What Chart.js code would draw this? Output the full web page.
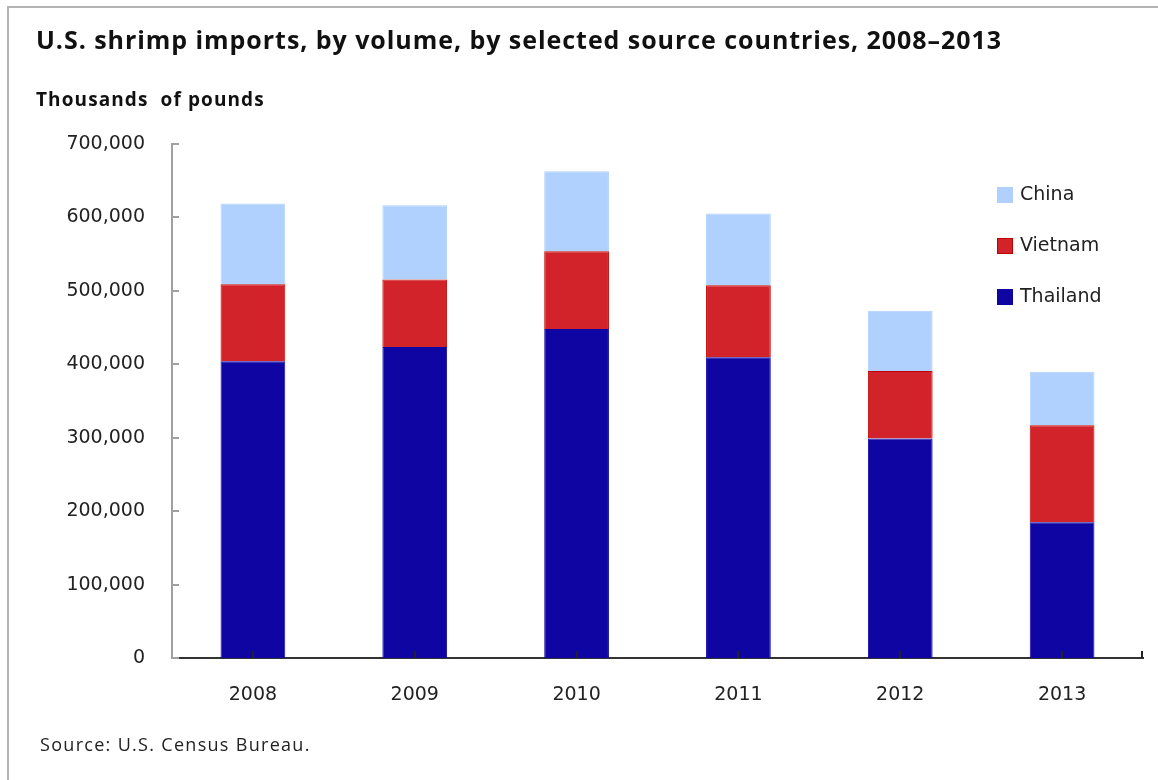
<!DOCTYPE html>
<html>
<head>
<meta charset="utf-8">
<script src="https://cdn.jsdelivr.net/npm/chart.js@4.4.0/dist/chart.umd.min.js"></script>
<style>
  body { margin: 0; background: #fff; width: 1158px; height: 780px; overflow: hidden; position: relative; }
  #frame { position: absolute; left: 7px; top: 6px; width: 1300px; height: 900px;
           border-top: 2px solid #b4b4b4; border-left: 2px solid #b4b4b4; }
  #title { position: absolute; left: 36px; top: 22px; font: bold 25px "Open Sans", sans-serif; letter-spacing: 0.95px; color: #111; white-space: nowrap; }
  #unit { position: absolute; left: 36px; top: 86px; font: bold 19px "Open Sans", sans-serif; letter-spacing: 1.1px; color: #111; white-space: pre; }
  #source { position: absolute; left: 40px; top: 732px; font: 18px "Open Sans", sans-serif; letter-spacing: 1.3px; color: #222; white-space: nowrap; }
  #chart { position: absolute; left: 0; top: 0; }
</style>
</head>
<body>
<div id="frame"></div>
<canvas id="chart" width="1158" height="780"></canvas>
<div id="title">U.S. shrimp imports, by volume, by selected source countries, 2008–2013</div>
<div id="unit">Thousands  of pounds</div>
<div id="source">Source: U.S. Census Bureau.</div>
<script>
const years = ['2008', '2009', '2010', '2011', '2012', '2013'];
const thailand = [404000, 423500, 448000, 409500, 299000, 185000];
const vietnam = [105000, 92000, 106000, 98000, 92000, 132000];
const china = [110000, 101000, 109000, 98000, 82000, 73000];
const yTicks = [0, 100000, 200000, 300000, 400000, 500000, 600000, 700000];

const tickFont = { family: '"DejaVu Sans", sans-serif', size: 19 };

// ticks drawn inward, like the original
const innerTicks = {
    id: 'innerTicks',
    afterDatasetsDraw(chart) {
        const {ctx, chartArea, scales: {x, y}} = chart;
        ctx.save();
        ctx.lineWidth = 2;
        ctx.strokeStyle = '#a0a0a0';
        y.ticks.forEach((t, i) => {
            const py = Math.round(y.getPixelForTick(i));
            ctx.beginPath();
            ctx.moveTo(chartArea.left, py);
            ctx.lineTo(chartArea.left + 7, py);
            ctx.stroke();
        });
        ctx.strokeStyle = '#222';
        const ends = x.ticks.map((t, i) => x.getPixelForTick(i));
        ends.push(chartArea.right - 1);
        ends.forEach(px => {
            px = Math.round(px);
            ctx.beginPath();
            ctx.moveTo(px, chartArea.bottom);
            ctx.lineTo(px, chartArea.bottom - 7);
            ctx.stroke();
        });
        ctx.restore();
    }
};

// vertical legend inside the plot, top right
const sideLegend = {
    id: 'sideLegend',
    afterDraw(chart) {
        const {ctx} = chart;
        const sets = chart.data.datasets.slice().reverse();
        ctx.save();
        ctx.font = '19px "DejaVu Sans", sans-serif';
        ctx.textBaseline = 'middle';
        sets.forEach((ds, i) => {
            const cy = 195 + i * 51;
            ctx.fillStyle = ds.backgroundColor;
            ctx.fillRect(997, cy - 8, 16, 16);
            if (ds.borderColor !== ds.backgroundColor) {
                ctx.strokeStyle = ds.borderColor;
                ctx.lineWidth = 1;
                ctx.strokeRect(997.5, cy - 7.5, 15, 15);
            }
            ctx.fillStyle = '#222';
            ctx.fillText(ds.label, 1020, cy);
        });
        ctx.restore();
    }
};

const data = {
    labels: years,
    datasets: [{
        label: 'Thailand',
        data: thailand,
        backgroundColor: '#0e05a3',
        borderColor: '#0e05a3'
    }, {
        label: 'Vietnam',
        data: vietnam,
        backgroundColor: '#d2232a',
        borderColor: '#c00000'
    }, {
        label: 'China',
        data: china,
        backgroundColor: '#b0d1fd',
        borderColor: '#b0d1fd'
    }]
};

const config = {
    type: 'bar',
    data,
    options: {
        responsive: false,
        animation: false,
        layout: { padding: { top: 144, right: 15, left: 0, bottom: 0 } },
        datasets: { bar: { barPercentage: 0.4, categoryPercentage: 1, borderWidth: 1 } },
        plugins: { legend: { display: false }, tooltip: { enabled: false } },
        scales: {
            x: {
                stacked: true,
                grid: { display: false },
                border: { display: true, color: '#333', width: 2 },
                ticks: { font: tickFont, color: '#222', padding: 18 },
                afterFit: s => { s.height = 122; }
            },
            y: {
                stacked: true,
                min: 0,
                max: 700000,
                afterBuildTicks: s => { s.ticks = yTicks.map(v => ({value: v})); },
                grid: { display: false },
                border: { display: true, color: '#a0a0a0', width: 2 },
                ticks: {
                    font: tickFont,
                    color: '#222',
                    padding: 19,
                    callback: v => v.toLocaleString('en-US')
                },
                afterFit: s => { s.width = 172; }
            }
        }
    },
    plugins: [innerTicks, sideLegend]
};

new Chart(document.getElementById('chart').getContext('2d'), config);
</script>
</body>
</html>
